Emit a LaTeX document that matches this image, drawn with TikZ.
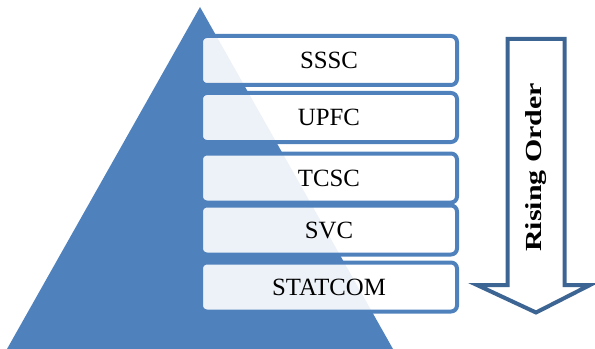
\documentclass[tikz,border=0pt]{standalone}
\usepackage{fontspec}
\setmainfont{Liberation Serif}
\definecolor{pyrblue}{HTML}{4F81BD}
\definecolor{arrblue}{HTML}{3D6594}
\tikzset{
  level/.style={draw=pyrblue, line width=3pt, fill=white, fill opacity=0.9, text opacity=1,
    rounded corners=4.5pt, minimum width=192pt, minimum height=36.75pt, inner sep=0pt,
    font=\fontsize{18.6}{20}\selectfont},
}
\begin{document}
\begin{tikzpicture}[x=0.75pt,y=-0.75pt]

  \useasboundingbox (0,0) rectangle (595,349);
  \fill[pyrblue] (200,7) -- (393,349) -- (7,349) -- cycle;

  \foreach \name/\y/\txt in {sssc/60.5/SSSC, upfc/117.5/UPFC, tcsc/178/TCSC, svc/230/SVC, statcom/287/STATCOM}
  \node[level] (\name) at (329,\y) {\txt};

  \draw[arrblue, line width=3pt, fill=white] (507.5,39) -- (564.5,39) -- (564.5,285) -- (590,285)
    -- (536,312.5) -- (477,285) -- (507.5,285) -- cycle;
  \node[rotate=90, xscale=1.3, font=\bfseries\fontsize{17.25}{20}\selectfont] (order) at (536.5,167.5) {Rising Order};

\end{tikzpicture}
\end{document}
